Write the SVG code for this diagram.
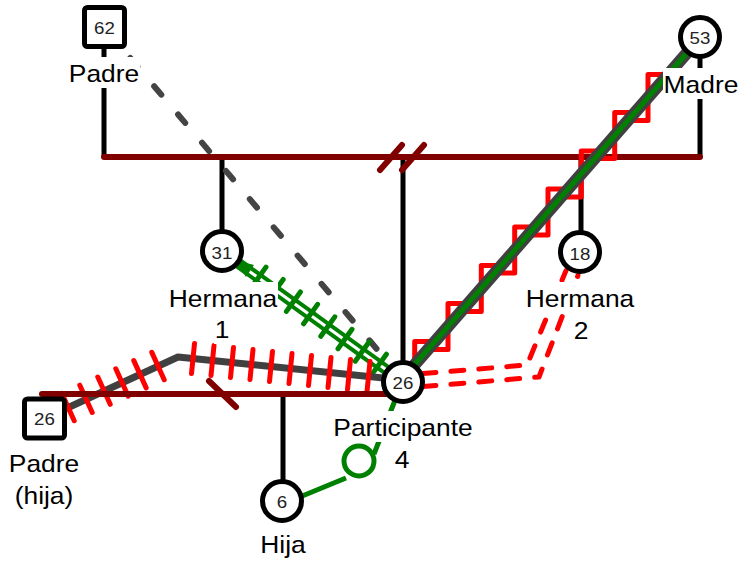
<svg xmlns="http://www.w3.org/2000/svg" width="738" height="566" viewBox="0 0 738 566">
<style>
.fam{stroke:#800000;stroke-width:6;stroke-linecap:round;fill:none}
.child{stroke:#000;stroke-width:5;fill:none}
.node{fill:#fff;stroke:#000;stroke-width:5}
.num{font-family:"Liberation Sans",Arial,sans-serif;font-size:17px;text-anchor:middle;fill:#222}
.lbl{font-family:"Liberation Sans",Arial,sans-serif;font-size:24px;text-anchor:middle;fill:#000}
.bg{fill:#fff}
.gdash{stroke:#444;stroke-width:6;fill:none;stroke-linecap:round;stroke-dasharray:11 26;stroke-dashoffset:33.4}
.gray{stroke:#404040;fill:none;stroke-linejoin:round}
.rtick{stroke:#ff0000;stroke-width:5;stroke-linecap:round}
.zig{stroke:#ff0000;stroke-width:5;fill:none;stroke-linejoin:round;stroke-linecap:round}
.green{stroke:#008000;fill:none}
.gtick{stroke:#008000;stroke-width:5;stroke-linecap:round}
.rdash{stroke:#ff0000;stroke-width:5;fill:none;stroke-linecap:round;stroke-linejoin:round;stroke-dasharray:13 15}
</style>
<g id="connectors">
  <g id="family-top">
    <line class="child" x1="104" y1="40" x2="104" y2="157"/>
    <line class="child" x1="700" y1="50" x2="700" y2="157"/>
    <line class="child" x1="222" y1="157" x2="222" y2="235"/>
    <line class="child" x1="403" y1="157" x2="403" y2="365"/>
    <line class="child" x1="581" y1="157" x2="581" y2="236"/>
    <line class="fam" x1="104" y1="157" x2="700" y2="157"/>
    <line class="fam" x1="380" y1="170" x2="402" y2="145"/>
    <line class="fam" x1="402" y1="170" x2="424" y2="145"/>
  </g>
  <g id="rel-padre-participante">
    <line class="gdash" x1="104" y1="27" x2="403" y2="380"/>
  </g>
  <g id="rel-madre-participante">
    <path class="zig" d="M392.7,387.6 H414.7 V341.6 H436.7 M426,349.5 H448 V303.5 H470 M459.3,311.4 H481.3 V265.4 H503.3 M492.7,273.1 H514.7 V227.1 H536.7 M526,235 H548 V189 H570 M559.3,196.9 H581.3 V150.9 H603.3 M592.7,158.6 H614.7 V112.6 H636.7 M626,120.5 H648 V74.5 H670"/>
    <line class="gray" stroke-width="12" x1="403" y1="378" x2="700" y2="38"/>
    <line class="green" stroke-width="5" x1="403" y1="378" x2="700" y2="38"/>
  </g>
  <g id="rel-hermana1-participante">
    <line class="green" stroke-width="11" x1="238" y1="263" x2="392" y2="374"/>
    <line stroke="#fff" stroke-width="3" x1="242" y1="266" x2="388" y2="371"/>
    <polygon fill="#008000" points="235,260 254,265 246,277"/>
    <line class="gtick" x1="266.0" y1="267.1" x2="252.0" y2="286.5"/>
    <line class="gtick" x1="283.2" y1="279.5" x2="269.2" y2="298.9"/>
    <line class="gtick" x1="300.4" y1="292.0" x2="286.4" y2="311.4"/>
    <line class="gtick" x1="317.6" y1="304.4" x2="303.6" y2="323.8"/>
    <line class="gtick" x1="334.8" y1="316.9" x2="320.8" y2="336.3"/>
    <line class="gtick" x1="352.0" y1="329.3" x2="338.0" y2="348.7"/>
    <line class="gtick" x1="369.2" y1="341.8" x2="355.2" y2="361.2"/>
    <line class="gtick" x1="386.4" y1="354.2" x2="372.4" y2="373.6"/>
  </g>
  <g id="rel-hermana2-participante">
    <polyline class="rdash" points="423,373.5 527,365 566,270.6"/>
    <polyline class="rdash" points="423,386.5 539,377 578,275.4"/>
  </g>
  <g id="rel-padrehija-participante">
    <polyline class="gray" stroke-width="7" points="44.5,418.5 178,357 403,380"/>
    <line class="rtick" x1="61.8" y1="393.4" x2="74.2" y2="420.7"/>
    <line class="rtick" x1="79.8" y1="385.2" x2="92.2" y2="412.5"/>
    <line class="rtick" x1="97.8" y1="377.0" x2="110.2" y2="404.3"/>
    <line class="rtick" x1="115.8" y1="368.8" x2="128.2" y2="396.1"/>
    <line class="rtick" x1="133.8" y1="360.6" x2="146.2" y2="387.9"/>
    <line class="rtick" x1="151.8" y1="352.4" x2="164.2" y2="379.7"/>
    <line class="rtick" x1="194.5" y1="343.6" x2="191.5" y2="373.4"/>
    <line class="rtick" x1="214" y1="345.6" x2="211" y2="375.4"/>
    <line class="rtick" x1="233.5" y1="347.6" x2="230.5" y2="377.4"/>
    <line class="rtick" x1="253" y1="349.6" x2="250" y2="379.4"/>
    <line class="rtick" x1="272.5" y1="351.6" x2="269.5" y2="381.4"/>
    <line class="rtick" x1="292" y1="353.6" x2="289" y2="383.4"/>
    <line class="rtick" x1="311.5" y1="355.6" x2="308.5" y2="385.4"/>
    <line class="rtick" x1="331" y1="357.6" x2="328" y2="387.4"/>
    <line class="rtick" x1="350.5" y1="359.6" x2="347.5" y2="389.4"/>
    <line class="rtick" x1="370" y1="361.6" x2="367" y2="391.4"/>
  </g>
  <g id="rel-participante-hija">
    <line class="green" stroke-width="5" x1="401" y1="385" x2="374" y2="454"/>
    <circle class="green" stroke-width="5" cx="359" cy="461" r="15"/>
    <line class="green" stroke-width="5" x1="346" y1="478" x2="290" y2="501"/>
  </g>
  <g id="family-bottom">
    <line class="child" x1="283" y1="394" x2="283" y2="482"/>
    <line class="fam" x1="42" y1="394" x2="400" y2="394"/>
    <line class="fam" x1="209" y1="381" x2="236" y2="407"/>
  </g>
</g>
<g id="padre">
  <rect class="node" x="84.5" y="7.5" width="40" height="39" rx="3"/>
  <text class="num" transform="matrix(1.1 0 0 1 104.5 34)">62</text>
  <rect class="bg" x="68" y="57" width="72" height="31"/>
  <text class="lbl" transform="matrix(1.1 0 0 1 104 82)">Padre</text>
</g>
<g id="madre">
  <circle class="node" cx="700" cy="37" r="19.5"/>
  <text class="num" transform="matrix(1.1 0 0 1 700 44)">53</text>
  <rect class="bg" x="663" y="68" width="76" height="31"/>
  <text class="lbl" transform="matrix(1.1 0 0 1 701 93)">Madre</text>
</g>
<g id="hermana1">
  <circle class="node" cx="222" cy="251" r="19.5"/>
  <text class="num" transform="matrix(1.1 0 0 1 222 258.5)">31</text>
  <rect class="bg" x="168" y="282" width="110" height="31"/>
  <text class="lbl" transform="matrix(1.1 0 0 1 223 307)">Hermana</text>
  <rect class="bg" x="214" y="314" width="17" height="30"/>
  <text class="lbl" transform="matrix(1.1 0 0 1 222 338)">1</text>
</g>
<g id="hermana2">
  <circle class="node" cx="580" cy="252" r="19.5"/>
  <text class="num" transform="matrix(1.1 0 0 1 580 259.5)">18</text>
  <rect class="bg" x="525" y="282" width="110" height="31"/>
  <text class="lbl" transform="matrix(1.1 0 0 1 580 307)">Hermana</text>
  <rect class="bg" x="573" y="315" width="17" height="30"/>
  <text class="lbl" transform="matrix(1.1 0 0 1 581 339)">2</text>
</g>
<g id="participante">
  <circle class="node" cx="403" cy="382" r="19.5"/>
  <text class="num" transform="matrix(1.1 0 0 1 403 389)">26</text>
  <rect class="bg" x="332" y="411" width="142" height="31"/>
  <text class="lbl" transform="matrix(1.1 0 0 1 403 436)">Participante</text>
  <rect class="bg" x="394" y="444" width="17" height="30"/>
  <text class="lbl" transform="matrix(1.1 0 0 1 402 468)">4</text>
</g>
<g id="padre-hija">
  <rect class="node" x="24.5" y="399" width="40" height="39" rx="3"/>
  <text class="num" transform="matrix(1.1 0 0 1 44.5 425)">26</text>
  <rect class="bg" x="8" y="447" width="73" height="31"/>
  <text class="lbl" transform="matrix(1.1 0 0 1 44 472)">Padre</text>
  <rect class="bg" x="14" y="479" width="61" height="32"/>
  <text class="lbl" transform="matrix(1.1 0 0 1 44 504)">(hija)</text>
</g>
<g id="hija">
  <circle class="node" cx="282" cy="501" r="19.5"/>
  <text class="num" transform="matrix(1.1 0 0 1 282 507.5)">6</text>
  <rect class="bg" x="259" y="528" width="48" height="31"/>
  <text class="lbl" transform="matrix(1.1 0 0 1 283 553)">Hija</text>
</g>
</svg>
